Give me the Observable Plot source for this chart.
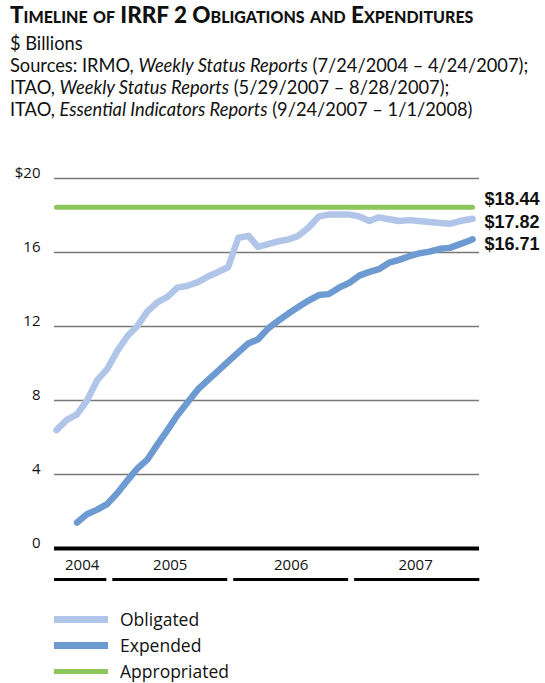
<!DOCTYPE html>
<html><head><meta charset="utf-8">
<script src="https://cdn.jsdelivr.net/npm/d3@7"></script>
<script src="https://cdn.jsdelivr.net/npm/@observablehq/plot@0.6"></script>
<style>
body{margin:0;background:#fff;font-family:Lato,"Open Sans",sans-serif;color:#111;}
#wrap{position:relative;width:545px;height:683px;overflow:hidden;}
#head{position:absolute;left:10px;top:1px;}
.title{font-family:Lato,sans-serif;font-weight:900;font-variant:small-caps;font-size:22.5px;line-height:27px;white-space:nowrap;}
.sub{font-family:Lato,sans-serif;font-size:18.25px;line-height:22px;white-space:nowrap;}
.sub.first{margin-top:3.5px;}
#chart{position:absolute;left:0;top:150px;}
#legend{position:absolute;left:54px;top:606px;font-family:"Open Sans",sans-serif;font-size:17.5px;}
.row{display:flex;align-items:center;height:26px;}
.sw{width:54px;height:7px;margin-right:12px;}
</style></head>
<body><div id="wrap">
<div id="head">
<div class="title">Timeline of IRRF 2 Obligations and Expenditures</div>
<div class="sub first">$ Billions</div>
<div class="sub">Sources: IRMO, <i>Weekly Status Reports</i> (7/24/2004 – 4/24/2007);</div>
<div class="sub">ITAO, <i>Weekly Status Reports</i> (5/29/2007 – 8/28/2007);</div>
<div class="sub">ITAO, <i>Essential Indicators Reports</i> (9/24/2007 – 1/1/2008)</div>
</div>
<div id="chart"></div>
<div id="legend"></div>
</div>
<script>
const dates = ["2004-07-24","2004-08-24","2004-09-24","2004-10-24","2004-11-24","2004-12-24",
"2005-01-24","2005-02-24","2005-03-24","2005-04-24","2005-05-24","2005-06-24","2005-07-24","2005-08-24","2005-09-24","2005-10-24","2005-11-24","2005-12-24",
"2006-01-24","2006-02-24","2006-03-24","2006-04-24","2006-05-24","2006-06-24","2006-07-24","2006-08-24","2006-09-24","2006-10-24","2006-11-24","2006-12-24",
"2007-01-24","2007-02-24","2007-03-24","2007-04-24","2007-05-24","2007-06-24","2007-07-24","2007-08-24","2007-09-24","2007-10-24","2007-11-24","2007-12-24",
"2008-01-01"];
const obligated = [6.4,6.95,7.25,8.0,9.1,9.7,
10.7,11.5,12.0,12.8,13.3,13.6,14.1,14.2,14.4,14.7,14.95,15.2,
16.8,16.9,16.3,16.45,16.6,16.7,16.9,17.35,17.95,18.05,18.05,18.05,
17.95,17.7,17.9,17.8,17.7,17.75,17.7,17.65,17.6,17.55,17.7,17.8,
17.82];
const expended = [null,null,1.4,1.85,2.1,2.4,
3.0,3.7,4.3,4.8,5.6,6.4,7.2,7.9,8.6,9.1,9.6,10.1,
10.6,11.1,11.3,11.9,12.3,12.7,13.05,13.4,13.7,13.75,14.1,14.35,
14.75,14.95,15.1,15.45,15.6,15.8,15.95,16.05,16.2,16.25,16.45,16.65,
16.71];
const appropriated = 18.44;
const yTicks = [0,4,8,12,16,20];
const yTickLabels = ["0","4","8","12","16","$20"];
const years = ["2004","2005","2006","2007"];
const yearStarts = ["2004-07-09","2005-01-01","2006-01-01","2007-01-01"];
const yearEnds = ["2005-01-01","2006-01-01","2007-01-01","2008-02-01"];
const endLabels = ["$18.44","$17.82","$16.71"];
const endValues = [18.44,17.82,16.71];
const seriesNames = ["Obligated","Expended","Appropriated"];

const colors = {Obligated:"#b0c5e8", Expended:"#6e9ad2", Appropriated:"#8dc65b"};
const parse = d3.utcParse("%Y-%m-%d");
const D = dates.map(parse);
const obl = D.map((d,i)=>({date:d, value:obligated[i]}));
const exp = D.map((d,i)=>({date:d, value:expended[i]})).filter(d=>d.value!=null);
const app = [D[0], D[D.length-1]].map(d=>({date:d, value:appropriated}));
const bands = years.map((y,i)=>({year:y, start:parse(yearStarts[i]), end:parse(yearEnds[i])}));
bands.forEach(b=>{ b.mid = new Date((Math.max(b.start, parse("2004-07-18"))+Math.min(b.end, parse("2008-01-22")))/2); });
const ticks = yTicks.map((t,i)=>({v:t, label:yTickLabels[i]}));
const ends = endValues.map((v,i)=>({date:D[D.length-1], v, label:endLabels[i]}));
const endDy = [-8,3,5];

const chart = Plot.plot({
  width:545, height:440,
  marginLeft:54, marginRight:66, marginTop:28, marginBottom:42,
  x:{type:"utc", domain:[parse("2004-07-18"), parse("2008-01-22")], axis:null},
  y:{domain:[0,20], axis:null},
  style:{fontFamily:"'Open Sans', Lato, sans-serif", color:"#111", background:"#fff", overflow:"visible"},
  marks:[
    Plot.ruleY([4,8,12,16,20], {stroke:"#777", strokeWidth:1.5}),
    Plot.text(ticks, {y:"v", text:"label", frameAnchor:"left", textAnchor:"end", dx:-14, dy:-5, fontSize:15}),
    Plot.line(app, {x:"date", y:"value", stroke:colors.Appropriated, strokeWidth:5, strokeLinecap:"round"}),
    Plot.line(obl, {x:"date", y:"value", stroke:colors.Obligated, strokeWidth:6.5, strokeLinejoin:"round", strokeLinecap:"round"}),
    Plot.line(exp, {x:"date", y:"value", stroke:colors.Expended, strokeWidth:6.5, strokeLinejoin:"round", strokeLinecap:"round"}),
    Plot.ruleY([0], {stroke:"#000", strokeWidth:4}),
    Plot.ruleY(bands, {x1:"start", x2:"end", y:()=>0, dy:31, insetLeft:3, insetRight:3, stroke:"#000", strokeWidth:3}),
    Plot.text(bands, {x:"mid", y:()=>0, text:"year", dy:17, fontSize:15}),
    ...ends.map((e,i)=>Plot.text([e], {x:"date", y:"v", text:"label", textAnchor:"start", dx:12, dy:endDy[i], fontSize:18, fontWeight:"bold", fontFamily:"'Liberation Sans', Arial, sans-serif"}))
  ]
});
document.getElementById("chart").appendChild(chart);

const leg = document.getElementById("legend");
seriesNames.forEach(n=>{
  const r = document.createElement("div"); r.className="row";
  const s = document.createElement("div"); s.className="sw"; s.style.background=colors[n];
  if(n==="Appropriated") s.style.height="5px";
  const t = document.createElement("span"); t.textContent=n;
  r.appendChild(s); r.appendChild(t); leg.appendChild(r);
});
</script>
</body></html>
